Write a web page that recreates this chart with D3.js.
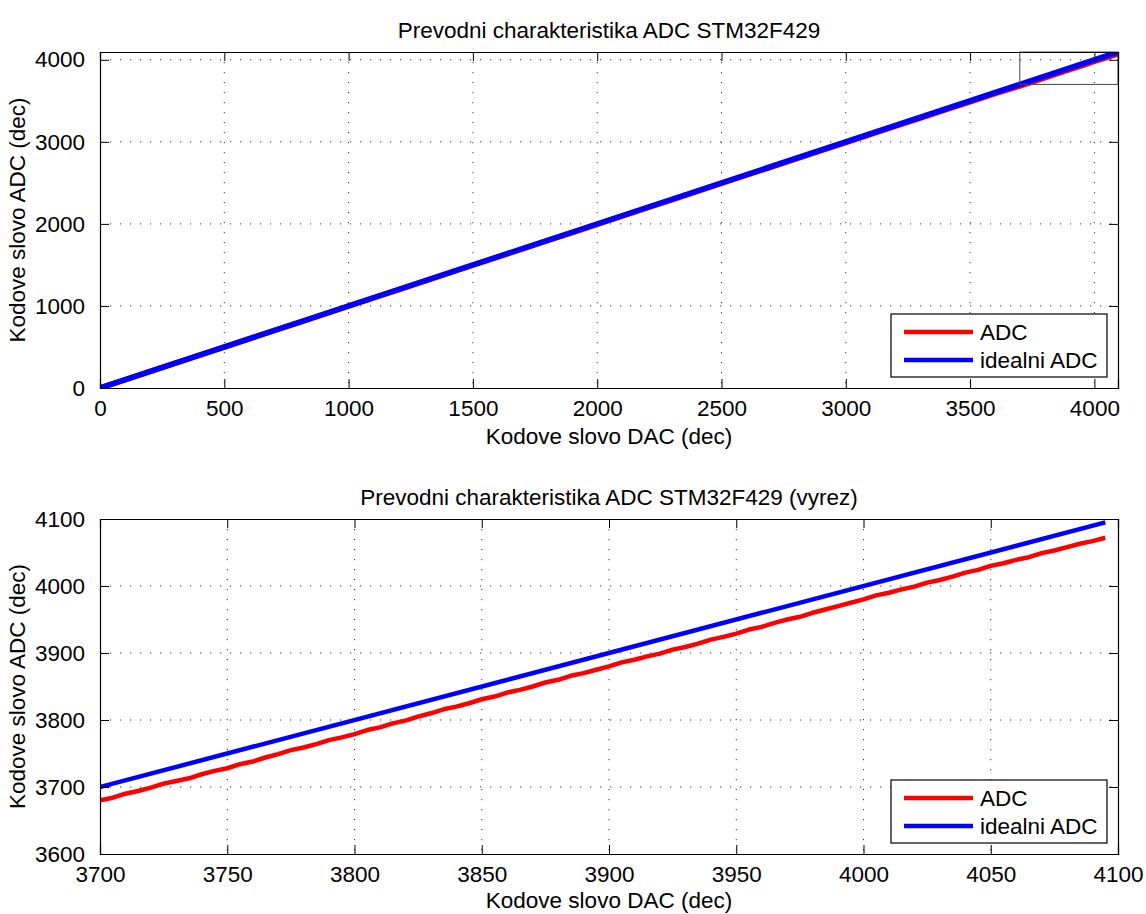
<!DOCTYPE html>
<html>
<head>
<meta charset="utf-8">
<script src="https://cdn.jsdelivr.net/npm/d3@7"></script>
<style>
  body { margin: 0; background: #fff; }
  svg text { font-family: "Liberation Sans", Arial, Helvetica, sans-serif; fill: #000; }
</style>
</head>
<body>
<svg id="chart" width="1146" height="914"></svg>
<script>
// measured ADC codes over the whole range (coarse) and in the zoomed tail
const dacCoarse = [0, 100, 200, 300, 400, 500, 600, 700, 800, 900, 1000, 1100, 1200, 1300, 1400, 1500, 1600, 1700, 1800, 1900,
  2000, 2100, 2200, 2300, 2400, 2500, 2600, 2700, 2800, 2900, 3000, 3100, 3200, 3300, 3400, 3500, 3600];
const adcCoarse = [0, 100, 200, 299, 399, 499, 599, 699, 798, 898, 998, 1098, 1197, 1297, 1397, 1497, 1596, 1696, 1796, 1895,
  1995, 2095, 2194, 2294, 2394, 2493, 2593, 2693, 2792, 2892, 2991, 3091, 3190, 3290, 3389, 3488, 3588];

const dacTail = [3700, 3705, 3710, 3715, 3720, 3725, 3730, 3735, 3740, 3745, 3750, 3755, 3760, 3765, 3770, 3775, 3780, 3785, 3790, 3795,
  3800, 3805, 3810, 3815, 3820, 3825, 3830, 3835, 3840, 3845, 3850, 3855, 3860, 3865, 3870, 3875, 3880, 3885, 3890, 3895,
  3900, 3905, 3910, 3915, 3920, 3925, 3930, 3935, 3940, 3945, 3950, 3955, 3960, 3965, 3970, 3975, 3980, 3985, 3990, 3995,
  4000, 4005, 4010, 4015, 4020, 4025, 4030, 4035, 4040, 4045, 4050, 4055, 4060, 4065, 4070, 4075, 4080, 4085, 4090, 4095];
const adcTail = [3680, 3684, 3690, 3694, 3699, 3705, 3709, 3713, 3719, 3724, 3728, 3734, 3738, 3744, 3749, 3755, 3759, 3764, 3770, 3774,
  3779, 3785, 3789, 3795, 3799, 3805, 3810, 3816, 3820, 3825, 3831, 3835, 3841, 3845, 3850, 3856, 3860, 3866, 3870, 3875,
  3880, 3886, 3890, 3895, 3899, 3905, 3909, 3914, 3920, 3924, 3929, 3935, 3939, 3945, 3950, 3954, 3960, 3965, 3970, 3975,
  3980, 3986, 3990, 3995, 3999, 4005, 4009, 4014, 4020, 4024, 4030, 4034, 4039, 4043, 4049, 4053, 4058, 4063, 4067, 4072];

// ideal converter: straight line end points
const idealDac = [0, 4095];
const idealAdc = [0, 4095];

const topXTicks = [0, 500, 1000, 1500, 2000, 2500, 3000, 3500, 4000];
const topYTicks = [0, 1000, 2000, 3000, 4000];
const botXTicks = [3700, 3750, 3800, 3850, 3900, 3950, 4000, 4050, 4100];
const botYTicks = [3600, 3700, 3800, 3900, 4000, 4100];

const seriesNames = ['ADC', 'idealni ADC'];
const seriesColors = ['#ff0000', '#0000ff'];

const titles = ['Prevodni charakteristika ADC STM32F429', 'Prevodni charakteristika ADC STM32F429 (vyrez)'];
const xTitle = 'Kodove slovo DAC (dec)';
const yTitle = 'Kodove slovo ADC (dec)';

const zoomBox = { x0: 3700, x1: 4095, y0: 3700, y1: 4095 };

const adcAll = dacCoarse.map((d, i) => [d, adcCoarse[i]]).concat(dacTail.map((d, i) => [d, adcTail[i]]));
const idealAll = idealDac.map((d, i) => [d, idealAdc[i]]);

const svg = d3.select('#chart');
const fontSize = 22.5;

function drawPanel(id, box, xDomain, yDomain, xTicks, yTicks, title, legendBox, showZoom, lw, xTitleOff) {
    const x = d3.scaleLinear().domain(xDomain).range([box.left, box.right]);
    const y = d3.scaleLinear().domain(yDomain).range([box.bottom, box.top]);
    const g = svg.append('g');

    g.append('clipPath').attr('id', 'clip' + id)
        .append('rect')
        .attr('x', box.left).attr('y', box.top)
        .attr('width', box.right - box.left).attr('height', box.bottom - box.top);

    // dotted grid
    g.selectAll('.vgrid').data(xTicks.filter(t => t > xDomain[0] && t < xDomain[1])).join('line')
        .attr('x1', d => x(d)).attr('x2', d => x(d))
        .attr('y1', box.top).attr('y2', box.bottom)
        .attr('stroke', '#333').attr('stroke-width', 1).attr('stroke-dasharray', '1.2,8.8');
    g.selectAll('.hgrid').data(yTicks.filter(t => t > yDomain[0] && t < yDomain[1])).join('line')
        .attr('x1', box.left).attr('x2', box.right)
        .attr('y1', d => y(d)).attr('y2', d => y(d))
        .attr('stroke', '#333').attr('stroke-width', 1).attr('stroke-dasharray', '1.2,8.8');

    const line = d3.line().x(d => x(d[0])).y(d => y(d[1]));
    const lines = g.append('g').attr('clip-path', `url(#clip${id})`);
    lines.append('path').datum(adcAll)
        .attr('d', line).attr('fill', 'none')
        .attr('stroke', seriesColors[0]).attr('stroke-width', lw).attr('stroke-linejoin', 'round');
    lines.append('path').datum(idealAll)
        .attr('d', line).attr('fill', 'none')
        .attr('stroke', seriesColors[1]).attr('stroke-width', lw);

    if (showZoom) {
        g.append('rect')
            .attr('x', x(zoomBox.x0)).attr('y', y(zoomBox.y1))
            .attr('width', x(zoomBox.x1) - x(zoomBox.x0))
            .attr('height', y(zoomBox.y0) - y(zoomBox.y1))
            .attr('fill', 'none').attr('stroke', '#444').attr('stroke-width', 1);
    }

    // axes: ticks inward on all four sides
    const tl = 9;
    g.append('g').attr('transform', `translate(0,${box.bottom})`)
        .call(d3.axisBottom(x).tickValues(xTicks).tickSize(-tl).tickPadding(tl + 3).tickFormat(d3.format('d')));
    g.append('g').attr('transform', `translate(0,${box.top})`)
        .call(d3.axisTop(x).tickValues(xTicks).tickSize(-tl).tickFormat(''));
    g.append('g').attr('transform', `translate(${box.left},0)`)
        .call(d3.axisLeft(y).tickValues(yTicks).tickSize(-tl).tickPadding(tl + 6).tickFormat(d3.format('d')));
    g.append('g').attr('transform', `translate(${box.right},0)`)
        .call(d3.axisRight(y).tickValues(yTicks).tickSize(-tl).tickFormat(''));

    g.selectAll('.domain').attr('stroke', '#000').attr('stroke-width', 1.2);
    g.selectAll('.tick line').attr('stroke', '#000').attr('stroke-width', 1);
    g.selectAll('.tick text').style('font-size', fontSize + 'px')
        .style('font-family', '"Liberation Sans", Arial, sans-serif').attr('fill', '#000');

    // titles
    g.append('text').attr('x', (box.left + box.right) / 2).attr('y', box.top - 14)
        .attr('text-anchor', 'middle').style('font-size', fontSize + 'px').text(title);
    g.append('text').attr('x', (box.left + box.right) / 2).attr('y', box.bottom + xTitleOff)
        .attr('text-anchor', 'middle').style('font-size', fontSize + 'px').text(xTitle);
    g.append('text')
        .attr('transform', `translate(25,${(box.top + box.bottom) / 2}) rotate(-90)`)
        .attr('text-anchor', 'middle').style('font-size', fontSize + 'px').text(yTitle);

    // legend
    const lg = g.append('g');
    lg.append('rect').attr('x', legendBox.x).attr('y', legendBox.y)
        .attr('width', legendBox.w).attr('height', legendBox.h)
        .attr('fill', '#fff').attr('stroke', '#000').attr('stroke-width', 1.2);
    seriesNames.forEach((name, i) => {
        const ry = legendBox.y + 18 + i * 28;
        lg.append('line').attr('x1', legendBox.x + 13).attr('x2', legendBox.x + 82)
            .attr('y1', ry).attr('y2', ry)
            .attr('stroke', seriesColors[i]).attr('stroke-width', 4.5);
        lg.append('text').attr('x', legendBox.x + 89).attr('y', ry + 8)
            .style('font-size', fontSize + 'px').text(name);
    });
}

drawPanel('a', { left: 100, right: 1118, top: 52, bottom: 388 }, [0, 4095], [0, 4095],
    topXTicks, topYTicks, titles[0], { x: 891, y: 314, w: 216, h: 63 }, true, 5.5, 56);
drawPanel('b', { left: 100, right: 1118, top: 519, bottom: 854 }, [3700, 4100], [3600, 4100],
    botXTicks, botYTicks, titles[1], { x: 891, y: 780, w: 216, h: 63 }, false, 4.5, 54);
</script>
</body>
</html>
